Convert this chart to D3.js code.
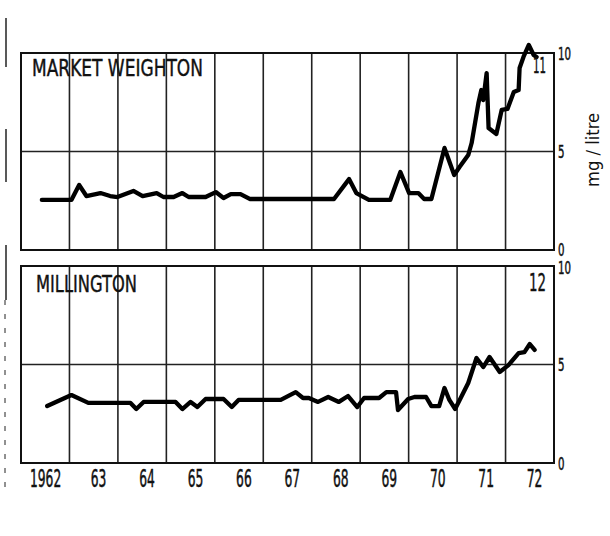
<!DOCTYPE html>
<html>
<head>
<meta charset="utf-8">
<script src="https://cdn.jsdelivr.net/npm/d3@7"></script>
<style>
  html, body { margin: 0; padding: 0; background: #fff; }
  svg { display: block; }
  text { font-family: "DejaVu Sans Condensed", "Liberation Sans Narrow", "Roboto Condensed", "DejaVu Sans", sans-serif; font-stretch: condensed; fill: #111; }
</style>
</head>
<body>
<svg id="chart" width="610" height="536"></svg>
<script>
// ---- Data ----
const yearTicks = [1963, 1964, 1965, 1966, 1967, 1968, 1969, 1970, 1971, 1972];
const yearLabels = ["1962", "63", "64", "65", "66", "67", "68", "69", "70", "71", "72"];
const valueTicks = [0, 5, 10];

const mwDates = [1962.43, 1963.04, 1963.20, 1963.35, 1963.64, 1963.84, 1963.99, 1964.32, 1964.51, 1964.80,
  1964.94, 1965.15, 1965.33, 1965.46, 1965.81, 1966.02, 1966.18, 1966.33, 1966.53, 1966.72,
  1968.46, 1968.77, 1968.92, 1969.18, 1969.62, 1969.83, 1970.01, 1970.20, 1970.32, 1970.47,
  1970.74, 1970.94, 1971.05, 1971.23, 1971.30, 1971.44, 1971.50, 1971.54, 1971.61, 1971.65,
  1971.81, 1971.92, 1972.04, 1972.17, 1972.27, 1972.29, 1972.37, 1972.48, 1972.58, 1972.64];
const mwValues = [2.54, 2.54, 3.30, 2.74, 2.89, 2.74, 2.69, 3.00, 2.74, 2.89,
  2.69, 2.69, 2.89, 2.69, 2.69, 2.94, 2.64, 2.84, 2.84, 2.59,
  2.59, 3.60, 2.89, 2.54, 2.54, 3.96, 2.89, 2.89, 2.59, 2.59,
  5.18, 3.81, 4.21, 4.82, 5.43, 7.46, 8.12, 7.61, 8.98, 6.19,
  5.89, 7.11, 7.16, 8.02, 8.12, 9.24, 9.80, 10.41, 9.90, 9.80];

const milDates = [1962.54, 1963.04, 1963.39, 1964.26, 1964.38, 1964.53, 1965.19, 1965.33, 1965.50, 1965.64,
  1965.81, 1966.18, 1966.35, 1966.49, 1967.36, 1967.67, 1967.82, 1967.94, 1968.13, 1968.34,
  1968.56, 1968.75, 1968.94, 1969.08, 1969.39, 1969.54, 1969.74, 1969.78, 1969.99, 1970.12,
  1970.36, 1970.47, 1970.63, 1970.74, 1970.84, 1970.96, 1971.23, 1971.40, 1971.54, 1971.67,
  1971.88, 1972.06, 1972.27, 1972.39, 1972.50, 1972.60];
const milValues = [2.89, 3.45, 3.05, 3.05, 2.74, 3.10, 3.10, 2.74, 3.10, 2.84,
  3.25, 3.25, 2.84, 3.20, 3.20, 3.60, 3.30, 3.30, 3.10, 3.35,
  3.10, 3.40, 2.84, 3.30, 3.30, 3.60, 3.60, 2.69, 3.25, 3.35,
  3.35, 2.89, 2.89, 3.81, 3.20, 2.74, 4.06, 5.33, 4.87, 5.38,
  4.62, 4.97, 5.58, 5.63, 6.04, 5.74];

const panels = [
  { title: "MARKET WEIGHTON", number: "11", dates: mwDates, values: mwValues },
  { title: "MILLINGTON", number: "12", dates: milDates, values: milValues }
];

// ---- Layout ----
const svg = d3.select("#chart");
const x = d3.scaleLinear().domain([1962, 1973]).range([21, 554]);
const panelBox = [{ top: 53, bottom: 250 }, { top: 266, bottom: 463 }];
const titleLen = [171, 101];
const numLen = [13, 17];

panels.forEach((p, i) => {
  const box = panelBox[i];
  const y = d3.scaleLinear().domain([0, 10]).range([box.bottom, box.top]);
  const g = svg.append("g");

  // vertical grid lines (years)
  g.selectAll("line.vg").data(yearTicks).join("line")
    .attr("x1", d => x(d)).attr("x2", d => x(d))
    .attr("y1", y(10)).attr("y2", y(0))
    .attr("stroke", "#222").attr("stroke-width", 1.6);

  // horizontal grid line at 5
  g.append("line")
    .attr("x1", x(1962)).attr("x2", x(1973))
    .attr("y1", y(5)).attr("y2", y(5))
    .attr("stroke", "#222").attr("stroke-width", 1.6);

  // frame
  g.append("rect")
    .attr("x", x(1962)).attr("y", y(10))
    .attr("width", x(1973) - x(1962)).attr("height", y(0) - y(10))
    .attr("fill", "none").attr("stroke", "#111").attr("stroke-width", 2);

  // right value axis
  const ax = svg.append("g")
    .attr("transform", `translate(${x(1973)},0)`)
    .call(d3.axisRight(y).tickValues(valueTicks).tickSize(0).tickPadding(4).tickFormat(d3.format("d")));
  ax.select(".domain").remove();
  ax.selectAll("text").attr("font-size", 18).attr("fill", "#111")
    .style("font-family", null)
    .attr("dy", d => (i === 0 && d === 0) ? "0.28em" : (i === 1 && d === 10) ? "0.42em" : "0.36em")
    .attr("stroke", "#111").attr("stroke-width", 0.5)
    .attr("textLength", d => String(d).length * 6.5)
    .attr("lengthAdjust", "spacingAndGlyphs");

  // series line
  const pts = p.dates.map((d, k) => [d, p.values[k]]);
  g.append("path").datum(pts)
    .attr("fill", "none").attr("stroke", "#000").attr("stroke-width", 4.3)
    .attr("stroke-linejoin", "round").attr("stroke-linecap", "round")
    .attr("d", d3.line().x(d => x(d[0])).y(d => y(d[1])));

  // title
  g.append("text")
    .attr("x", x(1962) + (i === 0 ? 11 : 15)).attr("y", y(10) + (i === 0 ? 23 : 26))
    .attr("font-size", 23)
    .attr("stroke", "#111").attr("stroke-width", 0.4)
    .attr("textLength", titleLen[i]).attr("lengthAdjust", "spacingAndGlyphs")
    .text(p.title);

  // panel number
  g.append("text")
    .attr("x", x(1973) - 8).attr("y", y(10) + (i === 0 ? 20 : 25))
    .attr("text-anchor", "end")
    .attr("font-size", i === 0 ? 21 : 24)
    .attr("stroke", "#111").attr("stroke-width", 0.4)
    .attr("textLength", numLen[i]).attr("lengthAdjust", "spacingAndGlyphs")
    .text(p.number);
});

// year labels under bottom panel
svg.append("g").selectAll("text").data(yearLabels).join("text")
  .attr("x", (d, k) => k === 0 ? x(1962) + 9 : x(1962 + k + 0.6))
  .attr("y", 487)
  .attr("text-anchor", (d, k) => k === 0 ? "start" : "middle")
  .attr("font-size", 24)
  .attr("stroke", "#111").attr("stroke-width", 0.5)
  .attr("textLength", d => d.length * 7.8)
  .attr("lengthAdjust", "spacingAndGlyphs")
  .text(d => d);

// axis title
svg.append("text")
  .attr("transform", "translate(599,150) rotate(-90)")
  .attr("text-anchor", "middle")
  .attr("font-size", 17)
  .attr("textLength", 74).attr("lengthAdjust", "spacingAndGlyphs")
  .text("mg / litre");

// scan edge marks at far left
const edge = svg.append("g").attr("stroke", "#222").attr("stroke-width", 1.5);
[[18, 67], [129, 182], [245, 300]].forEach(s => {
  edge.append("line").attr("x1", 6).attr("x2", 6).attr("y1", s[0]).attr("y2", s[1]);
});
edge.append("line").attr("x1", 5).attr("x2", 5).attr("y1", 300).attr("y2", 492)
  .attr("stroke-dasharray", "5,9").attr("stroke-width", 1);
</script>
</body>
</html>
